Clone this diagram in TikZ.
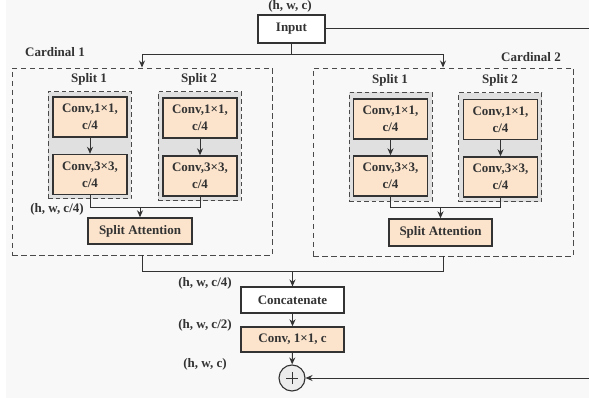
\documentclass[tikz,border=0pt]{standalone}
\usepackage{fontspec}
\setmainfont{Liberation Serif}
\usetikzlibrary{arrows.meta,fit,positioning}

\definecolor{ink}{HTML}{333333}
\definecolor{dashink}{HTML}{4A4A4A}
\definecolor{peach}{HTML}{FCE4CC}
\definecolor{groupgray}{HTML}{E0E0E0}
\definecolor{canvas}{HTML}{F8F8F8}

\tikzset{
  txt/.style={font=\fontsize{13}{17}\selectfont\bfseries, text=ink, align=center},
  opbox/.style={txt, draw=ink, line width=1.4pt, fill=peach, inner sep=0pt},
  plainbox/.style={txt, draw=ink, line width=1.1pt, fill=white, inner sep=0pt},
  group/.style={draw=dashink, dash pattern=on 4.5pt off 3pt, line width=1pt, fill=groupgray, inner sep=0pt},
  cardinal/.style={draw=dashink, dash pattern=on 5.5pt off 3.5pt, line width=0.95pt, inner sep=0pt},
  link/.style={draw=ink, line width=1pt},
  arr/.style={link, -{Stealth[length=7pt,width=6pt]}},
  dimlabel/.style={txt, inner sep=0pt},
}

\begin{document}
\begin{tikzpicture}[x=1pt,y=-1pt]
  \useasboundingbox (0,0) rectangle (589,398);
  \fill[canvas] (0,0) rectangle (589,398);
  \fill[white] (0,0) rectangle (6,398);

  % input
  \node[plainbox, minimum width=67pt, minimum height=28pt] (in) at (291.5,29) {Input};
  \node[dimlabel] (lin) at (290,6.5) {(h, w, c)};

  % cardinal frames
  \node[cardinal, minimum width=260pt, minimum height=187pt] (c1) at (142,161.5) {};
  \node[cardinal, minimum width=260pt, minimum height=188pt] (c2) at (443,162) {};
  \node[dimlabel, anchor=west] (c1lab) at (25,52) {Cardinal 1};
  \node[dimlabel, anchor=east] (c2lab) at (561,57) {Cardinal 2};

  % split groups, cardinal 1
  \node[group, minimum width=83pt, minimum height=107pt] (g11) at (89.5,145.5) {};
  \node[group, minimum width=83pt, minimum height=109pt] (g12) at (199.5,146.5) {};
  \node[opbox, minimum width=74pt, minimum height=40pt] (a11) at (90,117) {Conv,1×1,\\c/4};
  \node[opbox, minimum width=74pt, minimum height=40pt] (b11) at (90,174.5) {Conv,3×3,\\c/4};
  \node[opbox, minimum width=74pt, minimum height=40pt] (a12) at (200,118) {Conv,1×1,\\c/4};
  \node[opbox, minimum width=74pt, minimum height=40pt] (b12) at (200,176) {Conv,3×3,\\c/4};
  \node[txt] (s11) at (89,79) {Split 1};
  \node[txt] (s12) at (199,79) {Split 2};
  \node[opbox, minimum width=104pt, minimum height=26pt] (sa1) at (140,231) {Split Attention};
  \node[dimlabel] (l1) at (57,209) {(h, w, c/4)};

  % split groups, cardinal 2
  \node[group, minimum width=83pt, minimum height=109pt] (g21) at (390.5,147) {};
  \node[group, minimum width=83pt, minimum height=109pt] (g22) at (500,147.5) {};
  \node[opbox, minimum width=74pt, minimum height=40pt] (a21) at (390.5,119) {Conv,1×1,\\c/4};
  \node[opbox, minimum width=74pt, minimum height=40pt] (b21) at (390.5,176) {Conv,3×3,\\c/4};
  \node[opbox, minimum width=74pt, minimum height=40pt] (a22) at (500.5,119.5) {Conv,1×1,\\c/4};
  \node[opbox, minimum width=74pt, minimum height=40pt] (b22) at (500.5,177) {Conv,3×3,\\c/4};
  \node[txt] (s21) at (390,80) {Split 1};
  \node[txt] (s22) at (500,80) {Split 2};
  \node[opbox, minimum width=103pt, minimum height=27pt] (sa2) at (440.5,232.5) {Split Attention};

  % merge path
  \node[plainbox, minimum width=103pt, minimum height=26pt] (cat) at (292.5,300) {Concatenate};
  \node[opbox, minimum width=103pt, minimum height=25pt] (cv) at (292.5,339.5) {Conv, 1×1, c};
  \node[draw=ink, line width=1.1pt, fill=groupgray!60, circle, minimum size=26pt, inner sep=0pt] (plus) at (292,378) {};
  \draw[ink, line width=1pt] ([xshift=-6pt]plus.center) -- ([xshift=6pt]plus.center)
                             ([yshift=-6pt]plus.center) -- ([yshift=6pt]plus.center);
  \node[dimlabel] (l2) at (205,283) {(h, w, c/4)};
  \node[dimlabel] (l3) at (205,325) {(h, w, c/2)};
  \node[dimlabel] (l4) at (205,364) {(h, w, c)};

  % fan-out from the input
  \coordinate (fork) at (291.5,55);
  \draw[link] (in.south) -- (fork);
  \draw[arr] (fork) -| (c1.north);
  \draw[arr] (fork) -| (c2.north);

  % inside each split
  \draw[arr] (a11) -- (b11);
  \draw[arr] (a12) -- (b12);
  \draw[arr] (a21) -- (b21);
  \draw[arr] (a22) -- (b22);

  % splits into split attention
  \draw[link] (b11.south) -- ++(0,12) -| (b12.south);
  \draw[arr] (sa1.north |- 0,207) -- (sa1.north);
  \draw[link] (b21.south) -- ++(0,11) -| (b22.south);
  \draw[arr] (sa2.north |- 0,207) -- (sa2.north);

  % cardinals into concatenate
  \draw[link] (c1.south) |- (443,271) -- (c2.south);
  \draw[arr] (cat.north |- 0,271) -- (cat.north);
  \draw[arr] (cat) -- (cv);
  \draw[arr] (cv) -- (plus);

  % residual shortcut
  \coordinate (rtop) at (592,29);
  \coordinate (rbot) at (592,378);
  \draw[arr] (in.east) -- (rtop) -- (rbot) -- (plus.east);
\end{tikzpicture}
\end{document}
